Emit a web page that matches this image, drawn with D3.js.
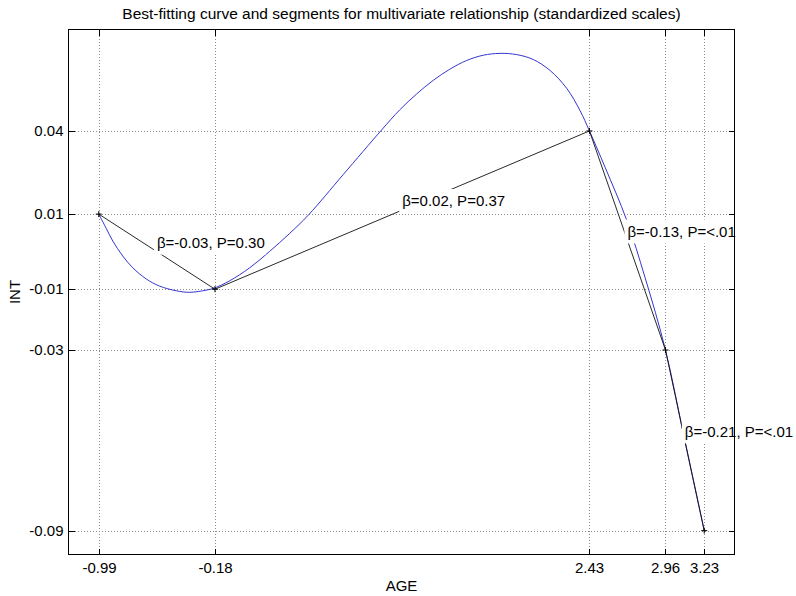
<!DOCTYPE html>
<html>
<head>
<meta charset="utf-8">
<script src="https://cdn.jsdelivr.net/npm/d3@7/dist/d3.min.js"></script>
<style>
  body { margin: 0; background: #fff; }
  svg { display: block; font-family: "Liberation Sans", Arial, sans-serif; }
</style>
</head>
<body>
<div id="chart"></div>
<script>
// breakpoints (AGE, INT) of the piecewise segments
const pointX = [-0.99, -0.18, 2.43, 2.96, 3.23];
const pointY = [0.0120, -0.0122, 0.0388, -0.0318, -0.0900];

// tick labels shown at the breakpoints (rounded)
const xTickLabels = ["-0.99", "-0.18", "2.43", "2.96", "3.23"];
const yTickLabels = ["0.01", "-0.01", "0.04", "-0.03", "-0.09"];

// segment annotations
const segLabels = ["β=-0.03, P=0.30", "β=0.02, P=0.37", "β=-0.13, P=<.01", "β=-0.21, P=<.01"];

// best-fitting curve
const curveX = [-0.990, -0.938, -0.892, -0.823, -0.753, -0.659, -0.566, -0.450, -0.357, -0.241,
                -0.183, -0.078, 0.062, 0.201, 0.341, 0.473, 0.713, 0.981, 1.108, 1.225,
                1.341, 1.457, 1.574, 1.690, 1.806, 1.923, 2.039, 2.155, 2.272, 2.365,
                2.430, 2.539, 2.690, 2.818, 2.960, 3.094, 3.230];
const curveY = [0.0120, 0.0074, 0.0033, -0.0015, -0.0053, -0.0089, -0.0112, -0.0127, -0.0132, -0.0125,
                -0.0118, -0.0095, -0.0053, 0.0000, 0.0058, 0.0118, 0.0247, 0.0391, 0.0456, 0.0507,
                0.0551, 0.0587, 0.0615, 0.0632, 0.0638, 0.0634, 0.0618, 0.0583, 0.0525, 0.0453,
                0.0388, 0.0271, 0.0100, -0.0085, -0.0318, -0.0609, -0.0900];

const W = 796, H = 596;
const margin = { top: 29.5, right: 61.5, bottom: 41.5, left: 68.5 };
const plotW = W - margin.left - margin.right;
const plotH = H - margin.top - margin.bottom;

const svg = d3.select("#chart").append("svg")
    .attr("width", W)
    .attr("height", H);

const points = pointX.map((x, i) => ({ x, y: pointY[i] }));
const curve = curveX.map((x, i) => ({ x, y: curveY[i] }));

// limits padded by 5% of the data range, like the original plot
const xExt = d3.extent(pointX);
const xPad = (xExt[1] - xExt[0]) * 0.05;
const yExt = d3.extent(pointY.concat(curveY));
const yPad = (yExt[1] - yExt[0]) * 0.05;

const x = d3.scaleLinear()
    .domain([xExt[0] - xPad, xExt[1] + xPad])
    .range([margin.left, margin.left + plotW]);

const y = d3.scaleLinear()
    .domain([yExt[0] - yPad, yExt[1] + yPad])
    .range([margin.top + plotH, margin.top]);

const xFmt = d => xTickLabels[pointX.indexOf(d)];
const yFmt = d => yTickLabels[pointY.indexOf(d)];

// white plot area
svg.append("rect")
    .attr("x", margin.left).attr("y", margin.top)
    .attr("width", plotW).attr("height", plotH)
    .attr("fill", "#fff");

// dotted grid
const grid = svg.append("g").attr("class", "grid");
grid.selectAll(".gx")
    .data(pointX)
    .enter().append("line")
    .attr("x1", d => Math.round(x(d)) + 0.5).attr("x2", d => Math.round(x(d)) + 0.5)
    .attr("y1", margin.top).attr("y2", margin.top + plotH);
grid.selectAll(".gy")
    .data(pointY)
    .enter().append("line")
    .attr("y1", d => Math.round(y(d)) + 0.5).attr("y2", d => Math.round(y(d)) + 0.5)
    .attr("x1", margin.left).attr("x2", margin.left + plotW);
grid.selectAll("line")
    .attr("stroke", "#8a8a8a")
    .attr("stroke-width", 1)
    .attr("stroke-dasharray", "1,2")
    .attr("shape-rendering", "crispEdges");

// fitted curve
const line = d3.line()
    .x(d => x(d.x))
    .y(d => y(d.y))
    .curve(d3.curveCatmullRom.alpha(0.5));

svg.append("path")
    .datum(curve)
    .attr("fill", "none")
    .attr("stroke", "#3535d0")
    .attr("stroke-width", 1)
    .attr("d", line);

// straight segments between breakpoints
svg.append("path")
    .datum(points)
    .attr("fill", "none")
    .attr("stroke", "#111")
    .attr("stroke-width", 0.9)
    .attr("d", d3.line().x(d => x(d.x)).y(d => y(d.y)));

// '+' markers
const marks = svg.append("g");
points.forEach(p => {
    const cx = x(p.x), cy = y(p.y);
    marks.append("path")
        .attr("d", `M${cx - 3},${cy}H${cx + 3}M${cx},${cy - 3}V${cy + 3}`)
        .attr("stroke", "#000")
        .attr("stroke-width", 1);
});

// segment labels at midpoints, with white boxes
const labels = svg.append("g").attr("font-size", "15px");
segLabels.forEach((txt, i) => {
    const mx = (x(points[i].x) + x(points[i + 1].x)) / 2;
    const my = (y(points[i].y) + y(points[i + 1].y)) / 2 - 9;
    const g = labels.append("g");
    const bg = g.append("rect").attr("fill", "#fff");
    const t = g.append("text")
        .attr("x", mx)
        .attr("y", my)
        .attr("dy", "0.35em")
        .attr("fill", "#000")
        .text(txt);
    const bb = t.node().getBBox();
    bg.attr("x", bb.x - 3).attr("y", my - 12)
        .attr("width", bb.width + 4).attr("height", 24);
});

// axes: ticks inside on all four sides
const tickLen = 6;
const xAxis = svg.append("g")
    .attr("transform", `translate(0,${margin.top + plotH})`)
    .call(d3.axisBottom(x).tickValues(pointX).tickFormat(xFmt)
        .tickSizeInner(-tickLen).tickSizeOuter(0).tickPadding(8));
const yAxis = svg.append("g")
    .attr("transform", `translate(${margin.left},0)`)
    .call(d3.axisLeft(y).tickValues(pointY).tickFormat(yFmt)
        .tickSizeInner(-tickLen).tickSizeOuter(0).tickPadding(5));
const xTop = svg.append("g")
    .attr("transform", `translate(0,${margin.top})`)
    .call(d3.axisTop(x).tickValues(pointX).tickFormat("")
        .tickSizeInner(-tickLen).tickSizeOuter(0));
const yRight = svg.append("g")
    .attr("transform", `translate(${margin.left + plotW},0)`)
    .call(d3.axisRight(y).tickValues(pointY).tickFormat("")
        .tickSizeInner(-tickLen).tickSizeOuter(0));

[xAxis, yAxis, xTop, yRight].forEach(a => {
    a.select(".domain").remove();
    a.selectAll(".tick line").attr("stroke", "#000").attr("shape-rendering", "crispEdges");
    a.selectAll(".tick text")
        .attr("fill", "#000")
        .style("font-size", "15px")
        .style("font-family", "'Liberation Sans', Arial, sans-serif");
});
xAxis.selectAll(".tick").attr("transform", d => `translate(${Math.round(x(d)) + 0.5},0)`);
yAxis.selectAll(".tick").attr("transform", d => `translate(0,${Math.round(y(d)) + 0.5})`);
xTop.selectAll(".tick").attr("transform", d => `translate(${Math.round(x(d)) + 0.5},0)`);
yRight.selectAll(".tick").attr("transform", d => `translate(0,${Math.round(y(d)) + 0.5})`);

// box
svg.append("rect")
    .attr("x", margin.left).attr("y", margin.top)
    .attr("width", plotW).attr("height", plotH)
    .attr("fill", "none")
    .attr("stroke", "#000")
    .attr("stroke-width", 1)
    .attr("shape-rendering", "crispEdges");

// title and axis labels
svg.append("text")
    .attr("x", margin.left + plotW / 2)
    .attr("y", 13.5)
    .attr("dy", "0.35em")
    .attr("text-anchor", "middle")
    .style("font-size", "15.5px")
    .text("Best-fitting curve and segments for multivariate relationship (standardized scales)");

svg.append("text")
    .attr("x", margin.left + plotW / 2)
    .attr("y", 586)
    .attr("dy", "0.35em")
    .attr("text-anchor", "middle")
    .style("font-size", "15px")
    .text("AGE");

svg.append("text")
    .attr("transform", `translate(15,${margin.top + plotH / 2}) rotate(-90)`)
    .attr("dy", "0.35em")
    .attr("text-anchor", "middle")
    .style("font-size", "15px")
    .text("INT");
</script>
</body>
</html>
